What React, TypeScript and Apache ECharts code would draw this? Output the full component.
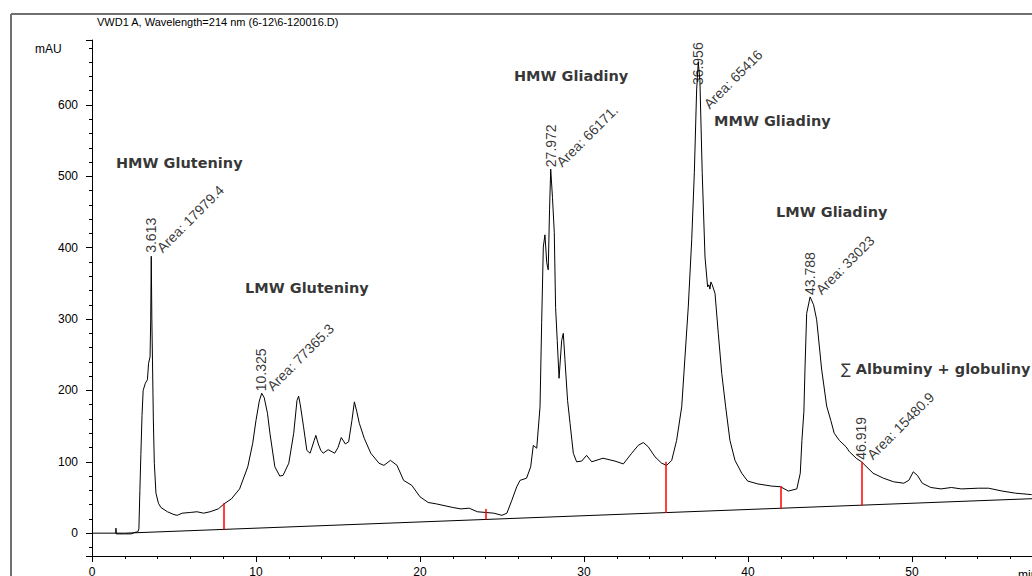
import { useEffect, useRef } from "react";
import * as echarts from "echarts";

// ---- data ----
const signalTime = [
  1.45, 1.46, 1.48, 2.0, 2.4, 2.6, 2.8, 2.86, 2.92, 2.98, 3.05, 3.12, 3.25, 3.38, 3.45, 3.54, 3.58, 3.613, 3.65, 3.69,
  3.74, 3.8, 3.9, 4.05, 4.2, 4.6, 5.0, 5.2, 5.5, 6.0, 6.4, 6.8, 7.2, 7.7, 8.05, 8.5, 9.0, 9.5, 9.8, 10.0,
  10.2, 10.35, 10.5, 10.7, 10.85, 11.15, 11.45, 11.65, 12.0, 12.3, 12.5, 12.6, 12.7, 12.9, 13.1, 13.3, 13.55, 13.65, 13.8, 13.95,
  14.1, 14.4, 14.8, 15.0, 15.2, 15.45, 15.65, 15.85, 16.0, 16.15, 16.3, 16.6, 17.0, 17.5, 17.8, 18.2, 18.6, 19.0, 19.5, 20.0,
  20.5, 21.0, 22.0, 22.5, 23.0, 23.5, 24.0, 24.5, 25.0, 25.3, 25.6, 25.9, 26.1, 26.5, 26.75, 26.91, 27.12, 27.32, 27.42, 27.52,
  27.62, 27.73, 27.82, 27.9, 27.972, 28.08, 28.19, 28.27, 28.37, 28.48, 28.64, 28.74, 28.84, 29.0, 29.15, 29.35, 29.55, 29.86, 30.16, 30.47,
  31.16, 31.89, 32.4, 32.91, 33.31, 33.62, 33.92, 34.33, 34.74, 35.04, 35.35, 35.65, 35.96, 36.16, 36.36, 36.57, 36.73, 36.87, 36.97, 37.07,
  37.21, 37.38, 37.54, 37.62, 37.68, 37.74, 37.82, 37.99, 38.19, 38.4, 38.64, 38.9, 39.21, 39.62, 39.98, 40.6, 41.43, 41.99, 42.46, 42.98,
  43.19, 43.29, 43.41, 43.48, 43.58, 43.79, 44.0, 44.19, 44.49, 44.8, 45.05, 45.26, 45.57, 45.98, 46.19, 46.6, 46.92, 47.63, 48.26, 48.88,
  49.5, 49.81, 50.08, 50.33, 50.63, 51.15, 51.77, 52.4, 53.01, 54.05, 54.67, 55.5, 56.32, 57.3,
];
const signalValue = [
  0, 7, -1, -1, -1, 1, 2, 6, 60, 110, 165, 200, 210, 215, 238, 247, 300, 388, 300, 240,
  160, 98, 56, 42, 36, 30, 26, 25, 28, 29, 30, 28, 30, 34, 41, 48, 62, 93, 126, 158,
  185, 196, 190, 168, 140, 93, 80, 81, 98, 140, 186, 192, 180, 149, 116, 112, 130, 137, 125, 116,
  112, 117, 112, 120, 134, 125, 128, 158, 184, 170, 154, 133, 112, 98, 95, 102, 95, 74, 67, 51,
  43, 41, 36, 34, 35, 30, 29, 28, 25, 28, 46, 65, 74, 77, 93, 123, 119, 177, 295, 401,
  418, 379, 369, 453, 510, 470, 421, 316, 270, 217, 270, 280, 243, 186, 154, 112, 100, 101, 109, 100,
  105, 101, 97, 112, 123, 127, 121, 107, 98, 95, 102, 130, 177, 247, 317, 411, 505, 621, 660, 634,
  505, 387, 345, 348, 342, 352, 348, 336, 280, 224, 177, 130, 102, 84, 73, 69, 66, 65, 59, 62,
  84, 130, 170, 233, 308, 331, 320, 299, 230, 178, 158, 140, 130, 121, 114, 105, 100, 84, 77, 72,
  70, 74, 86, 81, 70, 64, 62, 64, 62, 63, 63, 59, 56, 54,
];

const baselineTime = [0, 2, 57.32];
const baselineValue = [0, 0, 48.3];

const dropTime = [8.05, 24.02, 34.98, 41.99, 46.92];
const dropBottom = [5.2, 19.0, 28.4, 34.5, 38.7];
const dropTop = [42, 34, 100, 66, 100];

const peakTime = [3.613, 10.325, 27.972, 36.956, 43.788, 46.919];
const peakHeight = [390, 196, 510, 660, 331, 100];
const peakArea = ["17979.4", "77365.3", "66171.", "65416", "33023", "15480.9"];

const groupName = ["HMW Gluteniny", "LMW Gluteniny", "HMW Gliadiny", "MMW Gliadiny", "LMW Gliadiny", "∑ Albuminy + globuliny"];
const groupTime = [1.4, 9.27, 25.67, 37.87, 41.65, 45.61];
const groupValue = [519, 344, 641, 578, 450, 230];

const xTickStep = 10;
const yTickStep = 100;

// label nudges for the peak whose annotation is pushed inside the plot top
const labelNudge: Record<number, { rt: [number, number]; area: [number, number] }> = {
  3: { rt: [1, 24], area: [14, 50] },
};

const FONT = "'Liberation Sans', Arial, sans-serif";
const BOLD = "'DejaVu Sans', Verdana, sans-serif";

export default function App() {
  const ref = useRef<HTMLDivElement>(null);
  useEffect(() => {
    if (!ref.current) return;
    const chart = echarts.init(ref.current, undefined, { renderer: "svg" });
    const signal = signalTime.map((t, i) => [t, signalValue[i]]);
    const baseline = baselineTime.map((t, i) => [t, baselineValue[i]]);
    const drops = dropTime.map((t, i) => [{ coord: [t, dropBottom[i]] }, { coord: [t, dropTop[i]] }]);

    const rtData = peakTime.map((t, i) => ({
      value: [t, peakHeight[i]],
      label: { position: labelNudge[i] ? labelNudge[i].rt : [1, -1] },
    }));
    const areaData = peakTime.map((t, i) => ({
      value: [t, peakHeight[i]],
      label: { position: labelNudge[i] ? labelNudge[i].area : [14, 1] },
    }));
    const groupData = groupName.map((n, i) => ({ name: n, value: [groupTime[i], groupValue[i]] }));

    chart.setOption({
      animation: false,
      backgroundColor: "#ffffff",
      textStyle: { fontFamily: FONT },
      grid: { left: 92, right: 0, top: 40, bottom: 20, containLabel: false, outerBoundsMode: "none" },
      xAxis: {
        type: "value",
        min: 0,
        max: 57.32,
        interval: xTickStep,
        splitLine: { show: false },
        axisLine: { show: true, onZero: false, lineStyle: { color: "#000", width: 1 } },
        axisTick: { show: true, length: 6, lineStyle: { color: "#000", width: 1 } },
        minorTick: { show: true, splitNumber: 5, length: 3, lineStyle: { color: "#000", width: 1 } },
        axisLabel: {
          margin: 10,
          fontSize: 12,
          color: "#000",
          fontFamily: FONT,
          hideOverlap: false,
          formatter: (v: number) => (Math.abs(v % xTickStep) < 1e-6 ? String(v) : ""),
        },
      },
      yAxis: {
        type: "value",
        min: -32,
        max: 691,
        splitNumber: 7,
        splitLine: { show: false },
        axisLine: { show: true, lineStyle: { color: "#000", width: 1 } },
        axisTick: { show: true, length: 6, lineStyle: { color: "#000", width: 1 } },
        minorTick: { show: true, splitNumber: 5, length: 3, lineStyle: { color: "#000", width: 1 } },
        axisLabel: {
          margin: 14,
          fontSize: 12,
          color: "#000",
          fontFamily: FONT,
          formatter: (v: number) => (Math.abs(v % yTickStep) < 1e-6 ? String(v) : ""),
        },
      },
      series: [
        {
          type: "line",
          data: signal,
          showSymbol: false,
          symbol: "none",
          lineStyle: { color: "#000", width: 1 },
          z: 3,
          silent: true,
        },
        {
          type: "line",
          data: baseline,
          showSymbol: false,
          symbol: "none",
          lineStyle: { color: "#000", width: 1 },
          z: 2,
          silent: true,
          markLine: {
            silent: true,
            symbol: ["none", "none"],
            label: { show: false },
            lineStyle: { color: "#ff0000", width: 1.5, type: "solid" },
            data: drops,
          },
        },
        {
          type: "scatter",
          data: rtData,
          symbolSize: 2,
          itemStyle: { color: "rgba(0,0,0,0)" },
          silent: true,
          z: 5,
          label: {
            show: true,
            rotate: 90,
            align: "left",
            verticalAlign: "middle",
            fontSize: 14,
            color: "#000",
            fontFamily: FONT,
            formatter: (p: any) => peakTime[p.dataIndex].toFixed(3),
          },
        },
        {
          type: "scatter",
          data: areaData,
          symbolSize: 2,
          itemStyle: { color: "rgba(0,0,0,0)" },
          silent: true,
          z: 5,
          label: {
            show: true,
            rotate: 45,
            align: "left",
            verticalAlign: "bottom",
            fontSize: 14,
            color: "#000",
            fontFamily: FONT,
            formatter: (p: any) => "Area: " + peakArea[p.dataIndex],
          },
        },
        {
          type: "scatter",
          data: groupData,
          symbolSize: 2,
          itemStyle: { color: "rgba(0,0,0,0)" },
          silent: true,
          z: 5,
          label: {
            show: true,
            position: "right",
            distance: 0,
            align: "left",
            verticalAlign: "middle",
            formatter: (p: any) => {
              const n: string = p.name;
              return n.startsWith("∑") ? `{s|∑}{b|${n.slice(1)}}` : `{b|${n}}`;
            },
            rich: {
              s: { fontFamily: BOLD, fontSize: 14.5, fontWeight: "normal", color: "#000" },
              b: { fontFamily: BOLD, fontSize: 14.5, fontWeight: "bold", color: "#000" },
            },
          },
        },
      ],
      graphic: [
        { type: "line", shape: { x1: 11, y1: 14, x2: 11, y2: 576 }, style: { stroke: "#707070", lineWidth: 2 } },
        { type: "line", shape: { x1: 11, y1: 14, x2: 1032, y2: 14 }, style: { stroke: "#707070", lineWidth: 2 } },
        {
          type: "text",
          x: 97,
          y: 22,
          style: {
            text: "VWD1 A, Wavelength=214 nm (6-12\\6-120016.D)",
            fontSize: 11,
            fontFamily: FONT,
            fill: "#000",
            verticalAlign: "middle",
            textVerticalAlign: "middle",
          },
        },
        {
          type: "text",
          x: 35,
          y: 49,
          style: { text: "mAU", fontSize: 12, fontFamily: FONT, fill: "#000", verticalAlign: "middle", textVerticalAlign: "middle" },
        },
        {
          type: "text",
          x: 1018,
          y: 575,
          style: { text: "min", fontSize: 12, fontFamily: FONT, fill: "#000", verticalAlign: "middle", textVerticalAlign: "middle" },
        },
      ],
    });
    return () => chart.dispose();
  }, []);
  return <div ref={ref} style={{ position: "fixed", left: 0, top: 0, width: 1032, height: 576 }} />;
}
